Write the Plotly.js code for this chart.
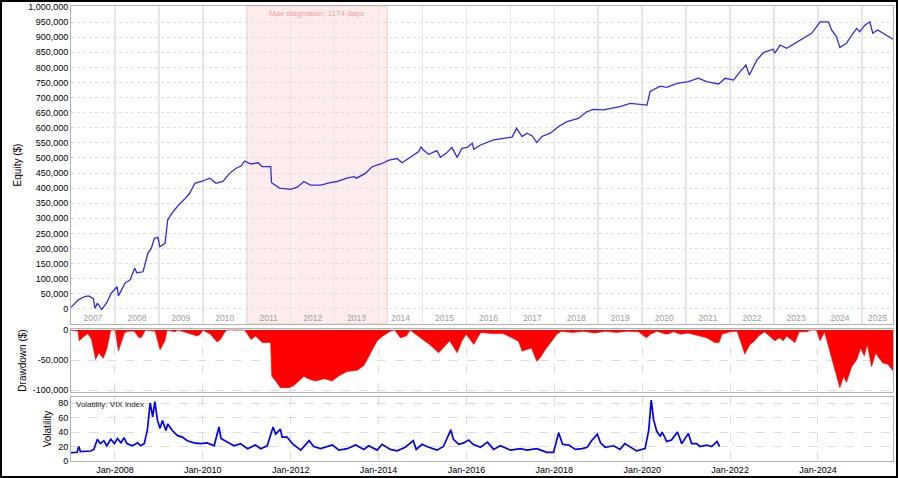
<!DOCTYPE html>
<html><head><meta charset="utf-8">
<script src="https://cdn.plot.ly/plotly-3.0.1.min.js"></script>
<style>
html,body{margin:0;padding:0;background:#fff;}
#wrap{position:absolute;left:0;top:0;width:894px;height:474px;border:2px solid #000;background:#fff;}
#chart{width:894px;height:474px;}
</style></head><body><div id="wrap"><div id="chart"></div></div>
<script>
// ---------- DATA ----------
const equityDates = ['2007-01-01','2007-03-02','2007-04-25','2007-05-25','2007-07-05','2007-07-20','2007-08-08','2007-09-13','2007-10-23','2007-12-01',
'2008-01-19','2008-01-30','2008-03-25','2008-05-05','2008-06-14','2008-07-01','2008-08-22','2008-10-01','2008-10-30','2008-11-24','2008-12-24',
'2009-01-08','2009-02-21','2009-03-15','2009-04-20','2009-06-13','2009-08-08','2009-09-13','2009-10-27','2009-12-20',
'2010-02-28','2010-04-20','2010-06-17','2010-08-11','2010-10-05','2010-11-14','2010-12-14',
'2011-02-06','2011-04-08','2011-05-08','2011-07-19','2011-07-26','2011-10-01',
'2012-01-01','2012-02-25','2012-04-20','2012-06-13','2012-09-06','2012-11-25',
'2013-01-19','2013-04-12','2013-06-10','2013-07-01','2013-09-13','2013-11-07',
'2014-01-19','2014-03-29','2014-06-03','2014-07-16','2014-09-24','2014-12-01','2014-12-20',
'2015-01-08','2015-02-21','2015-05-01','2015-05-30','2015-07-19','2015-09-02','2015-10-16','2015-11-25',
'2016-01-08','2016-02-18','2016-03-03','2016-04-27','2016-08-14','2016-11-06',
'2017-01-15','2017-02-21','2017-04-08','2017-05-18','2017-07-01','2017-08-08','2017-09-20','2017-11-28',
'2018-02-06','2018-04-16','2018-07-19','2018-09-27','2018-11-21',
'2019-02-14','2019-04-08','2019-07-01','2019-09-24','2019-12-13',
'2020-02-10','2020-03-07','2020-05-30','2020-07-23','2020-10-16',
'2021-01-19','2021-04-12','2021-06-20','2021-09-27','2021-11-21',
'2022-01-30','2022-03-25','2022-05-12','2022-06-10','2022-08-11','2022-10-05','2022-12-24',
'2023-01-08','2023-02-21','2023-04-16','2023-06-24','2023-09-02','2023-11-10',
'2024-01-19','2024-03-29','2024-04-23','2024-06-03','2024-07-01','2024-08-25','2024-09-20','2024-11-18','2024-12-13',
'2025-01-26','2025-03-07','2025-04-01','2025-05-12','2025-07-05','2025-08-28','2025-09-16'];
const equityValues = [5000,30000,41000,43000,35000,2000,19000,-2000,19000,52000,
74000,43000,85000,96000,135000,120000,123000,184000,201000,234000,237000,
206000,217000,295000,317000,344000,366000,383000,416000,422000,
433000,416000,422000,449000,466000,473000,490000,
480000,484000,471000,471000,418000,400000,
396000,403000,422000,410000,410000,418000,
422000,433000,438000,433000,449000,471000,
480000,493000,498000,484000,504000,521000,537000,
526000,512000,524000,502000,516000,535000,502000,532000,
535000,549000,529000,543000,560000,565000,
569000,598000,571000,582000,573000,551000,571000,582000,
604000,620000,631000,653000,661000,
659000,664000,670000,681000,678000,
675000,720000,738000,734000,747000,
753000,764000,753000,745000,764000,
758000,786000,808000,775000,824000,849000,860000,
847000,874000,863000,880000,896000,913000,
951000,951000,924000,902000,866000,880000,896000,929000,918000,
940000,951000,913000,924000,911000,896000,893000];

const drawdownDates = ['2007-01-01','2007-03-01','2007-03-10','2007-04-10','2007-05-20','2007-06-20','2007-07-25','2007-08-20','2007-09-27','2007-10-25','2007-11-28',
'2008-01-05','2008-01-30','2008-02-20','2008-03-20','2008-04-15','2008-06-10','2008-07-20','2008-08-10','2008-09-10','2008-12-01',
'2009-01-10','2009-02-20','2009-03-10','2009-05-15','2009-06-10','2009-11-15','2009-12-10',
'2010-01-01','2010-03-05','2010-04-30','2010-05-30','2010-06-30','2010-07-20','2010-12-15',
'2011-01-08','2011-02-06','2011-03-15','2011-05-10','2011-07-19','2011-07-28','2011-08-30','2011-10-08','2011-12-15',
'2012-01-25','2012-04-20','2012-05-25','2012-07-25','2012-10-05','2012-12-12',
'2013-01-30','2013-04-15','2013-07-08','2013-09-01','2013-10-27','2013-12-20',
'2014-02-05','2014-04-08','2014-05-15','2014-07-01','2014-08-20','2014-09-20','2014-12-28',
'2015-03-01','2015-05-15','2015-07-01','2015-08-15','2015-10-16','2015-11-25','2015-12-30',
'2016-03-03','2016-04-10','2016-05-01','2016-08-01','2016-11-01',
'2017-01-15','2017-03-10','2017-04-08','2017-05-20','2017-06-25','2017-08-08','2017-09-05','2017-10-20','2017-12-01',
'2018-01-22','2018-03-01','2018-06-01','2018-09-01','2018-12-01',
'2019-03-01','2019-06-01','2019-09-01','2019-12-01',
'2020-02-06','2020-03-10','2020-05-01','2020-07-23','2020-09-20','2020-11-15',
'2021-01-15','2021-05-10','2021-06-20','2021-08-28','2021-10-01','2021-10-25',
'2022-01-01','2022-03-01','2022-05-03','2022-06-15','2022-07-25','2022-08-25','2022-10-15',
'2023-01-08','2023-02-15','2023-03-20','2023-04-15','2023-06-24','2023-07-30','2023-09-30','2023-10-30','2023-12-20',
'2024-01-19','2024-02-25','2024-04-08','2024-05-20','2024-07-01','2024-08-01','2024-08-25','2024-10-08','2024-11-20','2024-12-20',
'2025-01-20','2025-02-15','2025-03-22','2025-04-25','2025-05-20','2025-06-25','2025-08-05','2025-09-16'];
const drawdownValues = [0,-2000,-18000,-12000,-6000,-15000,-49000,-38000,-47000,-32000,0,
0,-35000,-21000,-5000,-2000,-2000,-13000,-12000,0,-2000,
-33000,-18000,0,-3000,0,-10000,-7000,
0,-7000,-20000,-15000,-4000,0,0,
-7000,-16000,-10000,-21000,-21000,-77000,-85000,-96000,-96000,
-93000,-77000,-81000,-85000,-81000,-85000,
-77000,-69000,-67000,-59000,-38000,-18000,
-10000,-2000,0,-13000,-10000,0,-15000,
-24000,-38000,-27000,-18000,-38000,-18000,-7000,
-24000,-10000,-4000,-6000,-6000,
-13000,-19000,-35000,-32000,-30000,-52000,-46000,-32000,-21000,
-7000,-2000,-4000,-2000,-5000,
-2000,-4000,-2000,-3000,
-13000,-7000,-2000,-7000,-3000,-7000,
-5000,-10000,-13000,-21000,-21000,-7000,
-3000,-2000,-40000,-24000,-18000,-10000,-3000,
-18000,-13000,-18000,-10000,-21000,-3000,-3000,0,0,
-18000,-3000,-35000,-66000,-96000,-77000,-87000,-61000,-49000,-30000,
-43000,-24000,-61000,-38000,-46000,-55000,-57000,-68000];

const vixDates = ['2007-01-01','2007-02-20','2007-03-07','2007-03-20','2007-06-13','2007-07-10','2007-08-08','2007-09-01','2007-10-01','2007-10-25','2007-11-28','2007-12-28',
'2008-01-22','2008-02-20','2008-03-17','2008-04-10','2008-05-25','2008-07-08','2008-08-01','2008-09-01','2008-09-27','2008-10-20','2008-11-10','2008-11-28','2008-12-20',
'2009-01-10','2009-01-30','2009-02-28','2009-03-15','2009-04-22','2009-06-05','2009-07-15','2009-08-25','2009-10-20','2009-12-13',
'2010-02-06','2010-04-05','2010-05-15','2010-06-01','2010-07-22','2010-09-16','2010-11-10',
'2011-01-08','2011-03-14','2011-04-27','2011-06-20','2011-08-08','2011-08-30','2011-10-08','2011-10-22','2011-12-01',
'2012-01-15','2012-02-20','2012-03-25','2012-06-03','2012-07-10','2012-09-06','2012-12-13',
'2013-02-06','2013-04-15','2013-06-24','2013-09-01','2013-10-10','2013-12-20',
'2014-01-30','2014-04-08','2014-06-03','2014-08-11','2014-10-16','2014-11-10','2014-12-28',
'2015-02-06','2015-05-01','2015-06-24','2015-08-24','2015-09-15','2015-10-30','2015-12-10',
'2016-01-20','2016-02-25','2016-04-27','2016-06-24','2016-08-14','2016-10-08',
'2017-01-01','2017-03-25','2017-05-18','2017-08-08','2017-10-30','2017-12-25',
'2018-02-06','2018-03-10','2018-05-01','2018-06-25','2018-08-20','2018-10-01','2018-11-06','2018-12-24',
'2019-01-20','2019-02-28','2019-05-08','2019-07-01','2019-08-10','2019-09-15','2019-11-15',
'2020-01-25','2020-02-25','2020-03-16','2020-04-05','2020-05-01','2020-05-30','2020-06-15','2020-07-23','2020-09-01','2020-10-20','2020-11-25',
'2021-01-19','2021-02-15','2021-03-28','2021-04-25','2021-06-20','2021-08-01','2021-09-14','2021-10-05'];
const vixValues = [11.5,12,20,13,13.8,16,30,24,28,21,30,24,
31,25,32,24,21,25,21,24,43,80,61,82,56,
45,56,42,51,42,35,33,28,25,24,
25,21,47,31,26,21,24,
17,22,17,21,47,37,44,33,33,
24,20,15,28,20,17,22,
15,17,22,16,21,15,
23,16,14,19,28,16,23,
20,15,20,43,30,23,25,
29,23,19,26,16,21,
15,17,15,17,12,12,
39,23,22,16,17,19,28,37,
25,19,21,16,24,20,14,
17,43,84,57,41,34,40,27,29,40,24,
38,24,24,20,22,20,27,20];

const yearLabels = [2007,2008,2009,2010,2011,2012,2013,2014,2015,2016,2017,2018,2019,2020,2021,2022,2023,2024,2025];
const equityTicks = [-50000,0,50000,100000,150000,200000,250000,300000,350000,400000,450000,500000,550000,600000,650000,700000,750000,800000,850000,900000,950000,1000000];
const drawdownTicks = [0,-50000,-100000];
const vixTicks = [0,20,40,60,80];
const stagnationStart = '2010-12-28';
const stagnationEnd = '2014-03-15';
const stagnationText = 'Max stagnation: 1174 days';
const vixLabel = 'Volatility: VIX index';
const xStart = '2007-01-01';
const xEnd = '2025-09-16';

// ---------- helpers ----------
const fmt = v => v.toLocaleString('en-US');
const toISO = ms => new Date(ms).toISOString().slice(0,10);
const t0 = Date.parse(xStart), t1 = Date.parse(xEnd);
const yearStarts = yearLabels.slice(1).map(y => y + '-01-01');
const yearMids = yearLabels.map(y => {
  const a = Math.max(Date.parse(y + '-01-01'), t0);
  const b = Math.min(Date.parse((y + 1) + '-01-01'), t1);
  return toISO((a + b) / 2);
});
const midStag = toISO((Date.parse(stagnationStart) + Date.parse(stagnationEnd)) / 2);

const FONT = 'Liberation Sans, Arial, sans-serif';
const borderCol = '#b4b4b4';
const gridCol = '#dedede';
const tickFont = {family: FONT, size: 9, color: '#000000'};
const titleFont = {family: FONT, size: 10, color: '#000000'};

const traces = [
  {type:'scatter', mode:'lines', x: equityDates, y: equityValues, xaxis:'x', yaxis:'y',
   line:{color:'#2a2aff', width:1.3}, hoverinfo:'skip'},
  {type:'scatter', mode:'lines', x: drawdownDates, y: drawdownValues, xaxis:'x2', yaxis:'y2',
   fill:'tozeroy', fillcolor:'#ff0000', line:{color:'#ff0000', width:0.6}, hoverinfo:'skip'},
  {type:'scatter', mode:'lines', x: vixDates, y: vixValues, xaxis:'x3', yaxis:'y3',
   line:{color:'#0000ff', width:1.7}, hoverinfo:'skip'}
];

const baseX = {type:'date', range:[xStart, xEnd], showline:true, mirror:true, linecolor:borderCol, linewidth:1,
  zeroline:false, ticks:'', fixedrange:true};

const layout = {
  width: 894, height: 474,
  margin: {l:69, r:3, t:4, b:15},
  paper_bgcolor:'#ffffff', plot_bgcolor:'#ffffff',
  showlegend:false,
  font:{family: FONT, size: 9, color:'#000000'},
  xaxis: Object.assign({}, baseX, {
    anchor:'y', domain:[0,1],
    tickmode:'array', tickvals: yearMids, ticktext: yearLabels.map(String),
    ticklabelposition:'inside', showgrid:false,
    tickfont:{family: FONT, size: 8.5, color:'#a0a0a0'},
    minor:{tickmode:'array', tickvals: yearStarts, showgrid:true, gridcolor:'#e6e6e6', gridwidth:1.6, ticks:''}
  }),
  yaxis: {
    anchor:'x', domain:[0.3011, 1], range:[-50000, 1003300],
    tickmode:'array', tickvals: equityTicks, ticktext: equityTicks.map(fmt),
    showgrid:true, gridcolor:gridCol, griddash:'dot', gridwidth:1,
    showline:true, mirror:true, linecolor:borderCol, zeroline:false, ticks:'',
    tickfont: tickFont, title:{text:'Equity ($)', font:titleFont, standoff:4}, fixedrange:true
  },
  xaxis2: Object.assign({}, baseX, {
    anchor:'y2', domain:[0,1], showticklabels:false,
    tick0:'2008-01-01', dtick:'M24', showgrid:true, gridcolor:gridCol, griddash:'dash'
  }),
  yaxis2: {
    anchor:'x2', domain:[0.1516, 0.2901], range:[-103300, 1700],
    tickmode:'array', tickvals: drawdownTicks, ticktext: drawdownTicks.map(fmt),
    showgrid:true, gridcolor:gridCol, griddash:'dash',
    showline:true, mirror:true, linecolor:borderCol, zeroline:false, ticks:'',
    tickfont: tickFont, title:{text:'Drawdown ($)', font:titleFont, standoff:4}, fixedrange:true
  },
  xaxis3: Object.assign({}, baseX, {
    anchor:'y3', domain:[0,1],
    tick0:'2008-01-01', dtick:'M24', tickformat:'%b-%Y',
    showgrid:true, gridcolor:gridCol, griddash:'dash', tickfont: tickFont
  }),
  yaxis3: {
    anchor:'x3', domain:[0, 0.1407], range:[0, 88.3],
    tickmode:'array', tickvals: vixTicks, ticktext: vixTicks.map(String),
    showgrid:true, gridcolor:gridCol, griddash:'dash',
    showline:true, mirror:true, linecolor:borderCol, zeroline:false, ticks:'',
    tickfont: tickFont, title:{text:'Volatility', font:titleFont, standoff:4}, fixedrange:true
  },
  shapes: [
    {type:'rect', xref:'x', yref:'y domain', x0: stagnationStart, x1: stagnationEnd, y0:0, y1:1,
     fillcolor:'rgba(255,0,0,0.075)', line:{color:'rgba(255,120,120,0.3)', width:1}, layer:'below'}
  ],
  annotations: [
    {xref:'x', yref:'y domain', x: midStag, y:1, xanchor:'center', yanchor:'top', yshift:-1,
     text: stagnationText, showarrow:false, font:{family: FONT, size:8, color:'#ff9c9c'}},
    {xref:'x3 domain', yref:'y3 domain', x:0, y:1, xanchor:'left', yanchor:'top', xshift:3, yshift:-1,
     text: vixLabel, showarrow:false, font:{family: FONT, size:8, color:'#1a1a1a'}}
  ]
};

Plotly.newPlot('chart', traces, layout, {displayModeBar:false, staticPlot:true});
</script></body></html>
